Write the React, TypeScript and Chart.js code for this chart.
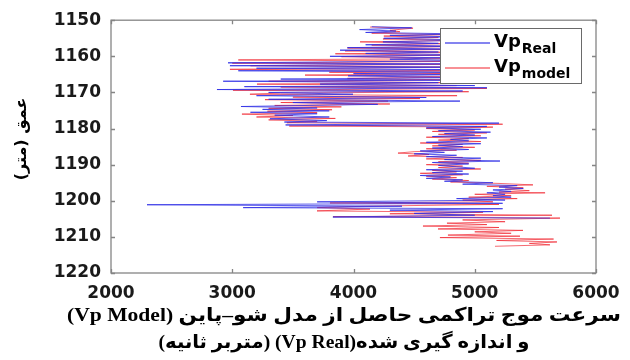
import React, { useEffect, useRef } from "react";
import { Chart, registerables } from "chart.js";

Chart.register(...registerables);

// ---- data ----
const xTickValues = [2000, 3000, 4000, 5000, 6000];
const yTickValues = [1150, 1160, 1170, 1180, 1190, 1200, 1210, 1220];
const seriesLabels = ["Real", "model"];
const yTitle = "عمق (متر)";
const xTitleLines = [
  "سرعت موج تراکمی حاصل از مدل شو–پاین (Vp Model)",
  "و اندازه گیری شده(Vp Real) (متربر ثانیه)",
];

// [depth (m), Vp (m/s)]
const vpRealLog: [number, number][] = [
  [1151.8, 4150], [1152.1, 4480], [1152.6, 4050], [1153.0, 4350], [1153.4, 4100], [1153.8, 4900],
  [1154.2, 4300], [1154.6, 4800], [1155.0, 4250], [1155.5, 4950], [1156.0, 4243], [1156.4, 4700],
  [1156.8, 4100], [1157.2, 4900], [1157.6, 3950], [1158.0, 4850], [1158.3, 3889], [1158.8, 4700],
  [1159.2, 4100], [1159.6, 5000], [1160.0, 3806], [1160.4, 4750], [1160.8, 4300], [1161.2, 5050],
  [1161.8, 2965], [1162.1, 4800], [1162.6, 2981], [1163.0, 5000], [1163.3, 3200], [1163.7, 4900],
  [1164.0, 3050], [1164.4, 4950], [1164.8, 4000], [1165.1, 4850], [1165.4, 3955], [1165.9, 4900],
  [1166.3, 3400], [1166.6, 4800], [1166.9, 2925], [1167.3, 4700], [1167.7, 3724], [1168.1, 5000],
  [1168.4, 3100], [1168.7, 5101], [1169.2, 2874], [1169.6, 4900], [1170.0, 3300], [1170.5, 3996],
  [1170.9, 3200], [1171.4, 4600], [1171.9, 3300], [1172.4, 4878], [1172.8, 3500], [1173.3, 4200],
  [1173.9, 3072], [1174.3, 3700], [1174.7, 3250], [1175.1, 3800], [1175.5, 3150], [1175.9, 3700],
  [1176.3, 3350], [1176.8, 3800], [1177.3, 3311], [1177.8, 3780], [1178.2, 3430], [1178.5, 5200],
  [1179.0, 3440], [1179.4, 5100], [1179.8, 4600], [1180.2, 5050], [1180.6, 4700], [1181.0, 5130],
  [1181.4, 4750], [1181.8, 5000], [1182.2, 4650], [1182.6, 5100], [1183.0, 4800], [1183.4, 4950],
  [1183.8, 4600], [1184.2, 5050], [1184.6, 4700], [1185.0, 4900], [1185.4, 4650], [1185.8, 4950],
  [1186.2, 4550], [1186.6, 4750], [1187.0, 4500], [1187.4, 4850], [1187.8, 4600], [1188.2, 5050],
  [1188.6, 4750], [1189.0, 5208], [1189.4, 4650], [1189.8, 4950], [1190.2, 4700], [1190.6, 4850],
  [1191.0, 5000], [1191.4, 4600], [1191.8, 4900], [1192.2, 4650], [1192.6, 4950], [1193.0, 4550],
  [1193.4, 4800], [1193.8, 4600], [1194.2, 4900], [1194.6, 4750], [1195.0, 5150], [1195.4, 4900],
  [1195.8, 5350], [1196.2, 5200], [1196.6, 5400], [1197.0, 5150], [1197.4, 5300], [1197.8, 5100],
  [1198.2, 5250], [1198.6, 5150], [1199.0, 5300], [1199.4, 4850], [1199.8, 5250], [1200.3, 3700],
  [1200.7, 5230], [1201.1, 2297], [1201.5, 4400], [1201.9, 3090], [1202.2, 5230], [1202.6, 4300],
  [1203.0, 5150], [1203.5, 4500], [1204.0, 5000], [1204.5, 3830], [1204.8, 5620],
];

const vpModelLog: [number, number][] = [
  [1151.9, 4136], [1152.2, 4491], [1152.8, 4300], [1153.2, 4383], [1153.6, 4150], [1154.0, 4800],
  [1154.4, 4250], [1154.8, 4700], [1155.2, 4243], [1155.6, 4900], [1156.0, 4054], [1156.5, 4750],
  [1156.9, 4150], [1157.3, 4850], [1157.7, 3950], [1158.1, 4800], [1158.5, 3930], [1158.9, 4900],
  [1159.3, 3850], [1159.7, 4750], [1160.1, 3900], [1160.6, 5000], [1161.0, 3050], [1161.4, 4850],
  [1161.9, 3000], [1162.2, 4950], [1162.6, 3150], [1163.0, 4800], [1163.6, 2981], [1164.0, 4950],
  [1164.4, 3800], [1164.8, 4850], [1165.2, 3600], [1165.7, 4900], [1166.1, 3950], [1166.5, 4750],
  [1166.9, 3300], [1167.3, 4900], [1167.7, 3204], [1168.1, 4850], [1168.5, 3400], [1168.9, 5100],
  [1169.4, 3006], [1169.8, 4950], [1170.2, 3400], [1170.5, 3146], [1170.9, 4854], [1171.3, 3500],
  [1171.7, 4548], [1172.0, 3270], [1172.4, 4285], [1172.8, 3400], [1173.2, 4300], [1173.6, 3350],
  [1174.0, 3900], [1174.4, 3300], [1174.8, 3823], [1175.2, 3290], [1175.6, 3700], [1176.0, 3080],
  [1176.4, 3500], [1176.8, 3200], [1177.2, 3850], [1177.6, 3300], [1178.0, 3700], [1178.4, 3450],
  [1178.8, 5230], [1179.3, 3470], [1179.6, 5150], [1180.0, 4600], [1180.4, 5000], [1180.8, 4650],
  [1181.2, 5100], [1181.6, 4700], [1182.0, 5050], [1182.4, 4600], [1182.8, 4950], [1183.2, 4700],
  [1183.6, 5050], [1184.0, 4550], [1184.4, 4900], [1184.8, 4650], [1185.2, 5000], [1185.6, 4600],
  [1186.0, 4850], [1186.4, 4500], [1186.8, 4367], [1187.2, 4623], [1187.6, 4450], [1188.0, 4900],
  [1188.4, 4600], [1188.8, 5050], [1189.2, 4700], [1189.6, 4950], [1190.0, 4600], [1190.4, 4900],
  [1190.8, 4700], [1191.2, 5050], [1191.6, 4650], [1192.0, 4850], [1192.4, 4550], [1192.8, 4900],
  [1193.2, 4600], [1193.6, 4850], [1194.0, 4650], [1194.4, 4950], [1194.8, 4800], [1195.2, 5200],
  [1195.6, 5480], [1196.0, 5100], [1196.4, 5400], [1196.8, 5250], [1197.2, 5450], [1197.6, 5200],
  [1197.8, 5580], [1198.2, 5000], [1198.6, 5300], [1199.0, 4950], [1199.4, 5350], [1199.8, 4900],
  [1200.3, 5150], [1200.6, 3806], [1201.0, 5200], [1201.5, 4100], [1201.9, 3700], [1202.3, 4136],
  [1202.8, 3699], [1203.2, 5068], [1203.6, 4300], [1204.0, 5637], [1204.4, 3831], [1204.8, 5703],
  [1205.3, 4900], [1205.8, 5250], [1206.2, 4771], [1206.6, 5100], [1207.0, 4573], [1207.4, 5200],
  [1207.8, 4697], [1208.2, 5398], [1208.6, 5000], [1209.0, 5300], [1209.5, 4779], [1209.8, 5373],
  [1210.2, 4713], [1210.6, 5650], [1211.0, 5180], [1211.4, 5678], [1211.8, 5450], [1212.2, 5620],
  [1212.6, 5167],
];

const BLUE = "rgba(45, 45, 230, 0.78)";
const RED = "rgba(240, 35, 45, 0.68)";

const framePlugin = {
  id: "matlabFrame",
  afterDatasetsDraw(chart: any) {
    const { ctx, chartArea, scales } = chart;
    const { left, right, top, bottom } = chartArea;
    ctx.save();
    ctx.strokeStyle = "#858585";
    ctx.lineWidth = 1.3;
    ctx.strokeRect(left, top, right - left, bottom - top);
    ctx.beginPath();
    xTickValues.forEach((v) => {
      const px = Math.round(scales.x.getPixelForValue(v)) + 0.5;
      ctx.moveTo(px, bottom);
      ctx.lineTo(px, bottom - 4);
      ctx.moveTo(px, top);
      ctx.lineTo(px, top + 4);
    });
    yTickValues.forEach((v) => {
      const py = Math.round(scales.y.getPixelForValue(v)) + 0.5;
      ctx.moveTo(left, py);
      ctx.lineTo(left + 4, py);
      ctx.moveTo(right, py);
      ctx.lineTo(right - 4, py);
    });
    ctx.stroke();
    ctx.restore();
  },
};

const legendPlugin = {
  id: "vpLegend",
  afterDraw(chart: any) {
    const { ctx } = chart;
    const lx = 440, ly = 28, lw = 141, lh = 55;
    ctx.save();
    ctx.fillStyle = "#ffffff";
    ctx.fillRect(lx, ly, lw, lh);
    ctx.strokeStyle = "#6a6a6a";
    ctx.lineWidth = 1;
    ctx.strokeRect(lx + 0.5, ly + 0.5, lw, lh);
    const colors = [BLUE, RED];
    const lineYs = [43, 68];
    seriesLabels.forEach((lab, i) => {
      const y = lineYs[i];
      ctx.strokeStyle = colors[i];
      ctx.lineWidth = 1.4;
      ctx.beginPath();
      ctx.moveTo(445, y);
      ctx.lineTo(490, y);
      ctx.stroke();
      ctx.fillStyle = "#000";
      ctx.textAlign = "left";
      ctx.textBaseline = "alphabetic";
      ctx.font = "bold 18px 'DejaVu Sans'";
      ctx.fillText("Vp", 494, y + 4);
      const w = ctx.measureText("Vp").width;
      ctx.font = "bold 14px 'DejaVu Sans'";
      ctx.fillText(lab, 494 + w + 1, y + 10);
    });
    ctx.restore();
  },
};

const titlePlugin = {
  id: "axisTitles",
  afterDraw(chart: any) {
    const { ctx } = chart;
    ctx.save();
    ctx.fillStyle = "#000";
    ctx.direction = "rtl";
    ctx.textAlign = "center";
    ctx.textBaseline = "middle";
    ctx.font = "bold 19px 'Liberation Serif', 'DejaVu Sans'";
    const targets = [554, 371];
    const ys = [316, 343];
    xTitleLines.forEach((t, i) => {
      const w = ctx.measureText(t).width;
      ctx.save();
      ctx.translate(344, ys[i]);
      ctx.scale(targets[i] / w, 1);
      ctx.fillText(t, 0, 0);
      ctx.restore();
    });
    ctx.translate(22, 139);
    ctx.rotate(-Math.PI / 2);
    ctx.font = "bold 16px 'DejaVu Sans'";
    ctx.fillText(yTitle, 0, 0);
    ctx.restore();
  },
};

export default function App() {
  const canvasRef = useRef<HTMLCanvasElement | null>(null);

  useEffect(() => {
    if (!canvasRef.current) return;
    const tickFont = { family: "'DejaVu Sans'", weight: "bold" as const, size: 17 };
    const chart = new Chart(canvasRef.current, {
      type: "scatter",
      data: {
        datasets: [
          {
            label: "Vp Real",
            data: vpRealLog.map(([d, v]) => ({ x: v, y: d })),
            showLine: true,
            borderColor: BLUE,
            backgroundColor: BLUE,
            borderWidth: 1,
            pointRadius: 0,
            tension: 0,
          },
          {
            label: "Vp model",
            data: vpModelLog.map(([d, v]) => ({ x: v, y: d })),
            showLine: true,
            borderColor: RED,
            backgroundColor: RED,
            borderWidth: 1,
            pointRadius: 0,
            tension: 0,
          },
        ],
      },
      options: {
        animation: false,
        responsive: false,
        devicePixelRatio: 1,
        layout: { padding: { top: 17, right: 34, bottom: 0, left: 0 } },
        plugins: { legend: { display: false }, tooltip: { enabled: false } },
        scales: {
          x: {
            type: "linear",
            min: 2000,
            max: 6000,
            grid: { display: false, drawTicks: false },
            border: { display: false },
            ticks: {
              stepSize: 1000,
              font: tickFont,
              color: "#1a1a1a",
              padding: 10,
              maxRotation: 0,
              callback: (v: any) => String(v),
            },
            afterFit: (s: any) => { s.height = 87; },
          },
          y: {
            type: "linear",
            reverse: true,
            min: 1150,
            max: 1220,
            grid: { display: false, drawTicks: false },
            border: { display: false },
            ticks: {
              stepSize: 10,
              font: tickFont,
              color: "#1a1a1a",
              padding: 10,
              callback: (v: any) => String(v),
            },
            afterFit: (s: any) => { s.width = 111; },
          },
        },
      } as any,
      plugins: [framePlugin, legendPlugin, titlePlugin],
    });
    return () => chart.destroy();
  }, []);

  return (
    <div style={{ position: "absolute", left: 0, top: 0, width: 630, height: 360, background: "#fff" }}>
      <canvas ref={canvasRef} width={630} height={360} style={{ width: 630, height: 360 }} />
    </div>
  );
}
